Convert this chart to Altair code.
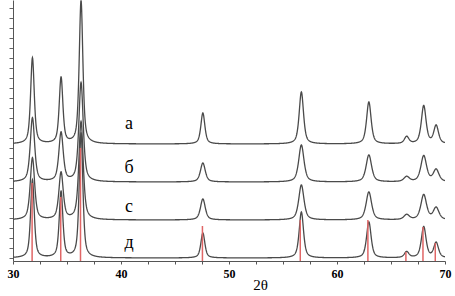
import altair as alt
import numpy as np
import pandas as pd

# --- values ---
peak_pos = [31.8, 34.45, 36.3, 47.58, 56.7, 62.95, 66.45, 68.03, 69.18]
peak_hwhm = [0.2, 0.2, 0.2, 0.22, 0.24, 0.25, 0.25, 0.26, 0.26]
traces = ["а", "б", "с", "д"]
offsets = [117, 79, 41, 3]
heights_a = [86, 66, 143, 31, 52, 42, 7, 38, 18]
heights_b = [64, 49, 99, 19, 37, 27, 5, 26, 12]
heights_c = [62, 47, 98, 21, 35, 28, 5, 25, 12]
heights_d = [78, 66, 125, 25, 46, 36, 6, 31, 15]
broaden = [1.0, 1.2, 1.2, 1.0]
ref_pos = [31.77, 34.42, 36.25, 47.54, 56.6, 62.86, 66.38, 67.96, 69.1]
ref_height = [78, 64, 113, 35, 41, 41, 9, 34, 18]
label_y = [132, 88, 49, 13]
label_x = 40.75
y_ticks = list(range(3, 260, 10))
x_ticks = [30, 32.5, 35, 37.5, 40, 42.5, 45, 47.5, 50, 52.5, 55, 57.5, 60, 62.5, 65, 67.5, 70]

all_heights = [heights_a, heights_b, heights_c, heights_d]

# --- build the profile curves from the peak table (pseudo-Voigt peaks) ---
xs = np.round(np.arange(30.0, 70.0001, 0.02), 3)
rows = []
eta = 0.6
for name, off, hs, br in zip(traces, offsets, all_heights, broaden):
    y = np.full_like(xs, float(off))
    for p, h, w in zip(peak_pos, hs, peak_hwhm):
        ww = w * br
        d = (xs - p) / ww
        lor = 1.0 / (1.0 + d * d)
        gau = np.exp(-np.log(2) * d * d)
        y += h * (eta * lor + (1 - eta) * gau)
    for xv, yv in zip(xs, y):
        rows.append({"trace": name, "x": float(xv), "y": float(yv)})
curves = pd.DataFrame(rows)

refs = pd.DataFrame({"x": ref_pos, "y": ref_height, "y0": [0] * len(ref_pos)})
labels = pd.DataFrame({"t": traces, "x": [label_x] * 4, "y": label_y})

xscale = alt.Scale(domain=[30, 70], nice=False, zero=False)
yscale = alt.Scale(domain=[0, 261], nice=False, zero=False)

x_axis = alt.Axis(
    values=x_ticks,
    labelExpr="datum.value % 10 === 0 ? datum.label : ''",
    labelFont="Liberation Serif",
    labelFontWeight="bold",
    labelFontSize=12,
    labelColor="black",
    labelPadding=4,
    labelFlush=False,
    tickSize=3,
    tickColor="#555",
    domainColor="#555",
    grid=False,
    title="2θ",
    titleFont="Liberation Serif",
    titleFontSize=15,
    titleFontWeight="normal",
    titleColor="black",
    titleBaseline="alphabetic",
    titleAlign="center",
    titleX=247,
    titleY=28,
)
y_axis = alt.Axis(
    values=y_ticks,
    labels=False,
    tickSize=4,
    tickColor="#666",
    domainColor="#555",
    grid=False,
    title=None,
)

X = alt.X("x:Q", scale=xscale, axis=x_axis, title="2θ")
Y = alt.Y("y:Q", scale=yscale, axis=y_axis, title=None)

lines = alt.Chart(curves).mark_line(
    color="#4a4a4a", strokeWidth=1.3, clip=True
).encode(x=X, y=Y, detail="trace:N")

red = alt.Chart(refs).mark_rule(color="#e06666", strokeWidth=1.5).encode(
    x=X, y=Y, y2="y0:Q",
)

text = alt.Chart(labels).mark_text(
    font="Liberation Serif", fontSize=18, baseline="alphabetic", align="center", color="black"
).encode(x=X, y=Y, text="t:N")

chart = (
    alt.layer(lines, red, text)
    .properties(
        width=432,
        height=261,
        autosize=alt.AutoSizeParams(type="none"),
        padding={"left": 13, "top": 0, "right": 10, "bottom": 35},
        background="white",
    )
    .configure_view(stroke=None)
)

chart.save("out.html", embed_options={"renderer": "svg", "actions": False})
